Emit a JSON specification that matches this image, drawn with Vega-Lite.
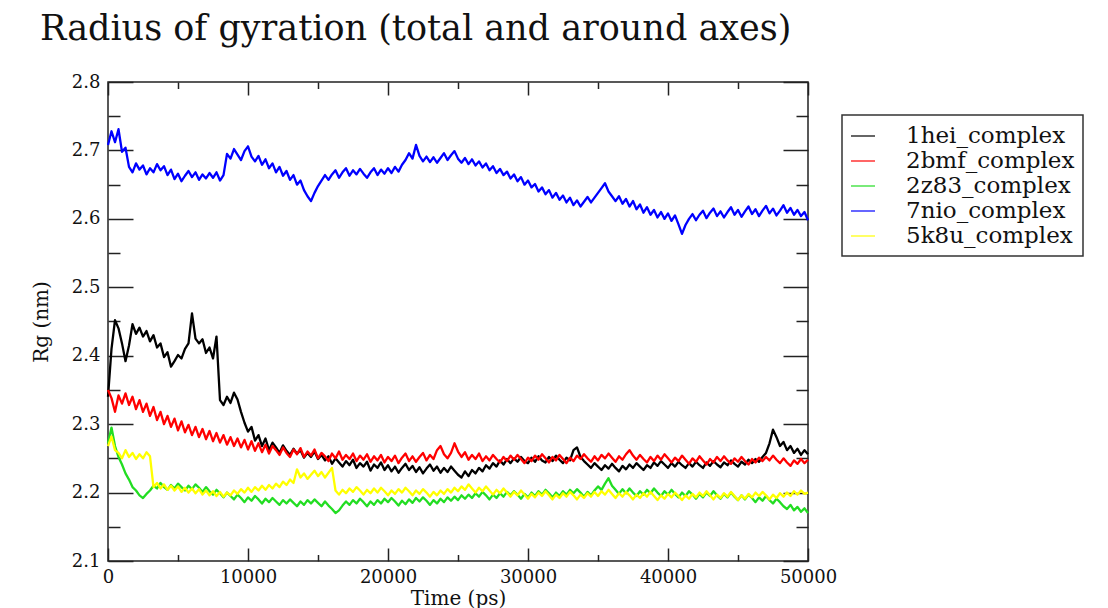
{
"$schema": "https://vega.github.io/schema/vega-lite/v6.json",
"width": 700, "height": 479,
"autosize": {"type": "none"},
"padding": {"left": 108, "top": 82, "right": 300, "bottom": 47},
"background": "white",
"config": {
  "font": "DejaVu Serif",
  "view": {"stroke": "#222", "strokeWidth": 1.5},
  "axis": {"grid": false, "domain": false, "tickColor": "#222", "tickWidth": 1.5, "labelFont": "DejaVu Serif", "labelFontSize": 18, "labelColor": "#111", "titleFont": "DejaVu Serif", "titleFontSize": 20, "titleFontWeight": "normal", "titleColor": "#111"}
},
"title": {"text": "Radius of gyration (total and around axes)", "anchor": "start", "frame": "group", "dx": -68, "fontSize": 35, "font": "DejaVu Serif", "fontWeight": "normal", "color": "#111", "offset": -2, "baseline": "alphabetic"},
"resolve": {"axis": {"x": "independent", "y": "independent"}},
"layer": [
{
"data": {"values": [
{"t":0,"1hei_complex":2.340,"2bmf_complex":2.350,"2z83_complex":2.272,"7nio_complex":2.708,"5k8u_complex":2.268},
{"t":250,"1hei_complex":2.410,"2bmf_complex":2.338,"2z83_complex":2.295,"7nio_complex":2.728,"5k8u_complex":2.282},
{"t":500,"1hei_complex":2.452,"2bmf_complex":2.318,"2z83_complex":2.268,"7nio_complex":2.712,"5k8u_complex":2.262},
{"t":750,"1hei_complex":2.440,"2bmf_complex":2.342,"2z83_complex":2.252,"7nio_complex":2.731,"5k8u_complex":2.258},
{"t":1000,"1hei_complex":2.418,"2bmf_complex":2.330,"2z83_complex":2.241,"7nio_complex":2.698,"5k8u_complex":2.250},
{"t":1250,"1hei_complex":2.392,"2bmf_complex":2.345,"2z83_complex":2.228,"7nio_complex":2.704,"5k8u_complex":2.262},
{"t":1500,"1hei_complex":2.415,"2bmf_complex":2.328,"2z83_complex":2.219,"7nio_complex":2.676,"5k8u_complex":2.252},
{"t":1750,"1hei_complex":2.446,"2bmf_complex":2.340,"2z83_complex":2.208,"7nio_complex":2.668,"5k8u_complex":2.258},
{"t":2000,"1hei_complex":2.432,"2bmf_complex":2.322,"2z83_complex":2.203,"7nio_complex":2.681,"5k8u_complex":2.249},
{"t":2250,"1hei_complex":2.441,"2bmf_complex":2.335,"2z83_complex":2.196,"7nio_complex":2.672,"5k8u_complex":2.256},
{"t":2500,"1hei_complex":2.428,"2bmf_complex":2.318,"2z83_complex":2.192,"7nio_complex":2.678,"5k8u_complex":2.250},
{"t":2750,"1hei_complex":2.436,"2bmf_complex":2.330,"2z83_complex":2.198,"7nio_complex":2.665,"5k8u_complex":2.259},
{"t":3000,"1hei_complex":2.421,"2bmf_complex":2.312,"2z83_complex":2.203,"7nio_complex":2.674,"5k8u_complex":2.253},
{"t":3250,"1hei_complex":2.430,"2bmf_complex":2.325,"2z83_complex":2.210,"7nio_complex":2.668,"5k8u_complex":2.208},
{"t":3500,"1hei_complex":2.412,"2bmf_complex":2.306,"2z83_complex":2.206,"7nio_complex":2.680,"5k8u_complex":2.214},
{"t":3750,"1hei_complex":2.418,"2bmf_complex":2.318,"2z83_complex":2.214,"7nio_complex":2.671,"5k8u_complex":2.206},
{"t":4000,"1hei_complex":2.398,"2bmf_complex":2.300,"2z83_complex":2.208,"7nio_complex":2.677,"5k8u_complex":2.212},
{"t":4250,"1hei_complex":2.405,"2bmf_complex":2.312,"2z83_complex":2.204,"7nio_complex":2.664,"5k8u_complex":2.204},
{"t":4500,"1hei_complex":2.384,"2bmf_complex":2.296,"2z83_complex":2.211,"7nio_complex":2.672,"5k8u_complex":2.210},
{"t":4750,"1hei_complex":2.392,"2bmf_complex":2.308,"2z83_complex":2.206,"7nio_complex":2.658,"5k8u_complex":2.203},
{"t":5000,"1hei_complex":2.401,"2bmf_complex":2.291,"2z83_complex":2.213,"7nio_complex":2.666,"5k8u_complex":2.209},
{"t":5250,"1hei_complex":2.396,"2bmf_complex":2.304,"2z83_complex":2.208,"7nio_complex":2.655,"5k8u_complex":2.201},
{"t":5500,"1hei_complex":2.410,"2bmf_complex":2.288,"2z83_complex":2.203,"7nio_complex":2.663,"5k8u_complex":2.207},
{"t":5750,"1hei_complex":2.418,"2bmf_complex":2.299,"2z83_complex":2.210,"7nio_complex":2.670,"5k8u_complex":2.200},
{"t":6000,"1hei_complex":2.462,"2bmf_complex":2.284,"2z83_complex":2.205,"7nio_complex":2.661,"5k8u_complex":2.206},
{"t":6250,"1hei_complex":2.425,"2bmf_complex":2.296,"2z83_complex":2.212,"7nio_complex":2.668,"5k8u_complex":2.199},
{"t":6500,"1hei_complex":2.418,"2bmf_complex":2.281,"2z83_complex":2.207,"7nio_complex":2.657,"5k8u_complex":2.205},
{"t":6750,"1hei_complex":2.424,"2bmf_complex":2.293,"2z83_complex":2.201,"7nio_complex":2.665,"5k8u_complex":2.197},
{"t":7000,"1hei_complex":2.404,"2bmf_complex":2.278,"2z83_complex":2.208,"7nio_complex":2.659,"5k8u_complex":2.203},
{"t":7250,"1hei_complex":2.412,"2bmf_complex":2.290,"2z83_complex":2.202,"7nio_complex":2.667,"5k8u_complex":2.196},
{"t":7500,"1hei_complex":2.396,"2bmf_complex":2.275,"2z83_complex":2.197,"7nio_complex":2.660,"5k8u_complex":2.202},
{"t":7750,"1hei_complex":2.428,"2bmf_complex":2.287,"2z83_complex":2.204,"7nio_complex":2.668,"5k8u_complex":2.195},
{"t":8000,"1hei_complex":2.335,"2bmf_complex":2.273,"2z83_complex":2.199,"7nio_complex":2.656,"5k8u_complex":2.201},
{"t":8250,"1hei_complex":2.328,"2bmf_complex":2.284,"2z83_complex":2.193,"7nio_complex":2.664,"5k8u_complex":2.194},
{"t":8500,"1hei_complex":2.340,"2bmf_complex":2.270,"2z83_complex":2.200,"7nio_complex":2.695,"5k8u_complex":2.200},
{"t":8750,"1hei_complex":2.331,"2bmf_complex":2.281,"2z83_complex":2.195,"7nio_complex":2.688,"5k8u_complex":2.196},
{"t":9000,"1hei_complex":2.346,"2bmf_complex":2.268,"2z83_complex":2.190,"7nio_complex":2.702,"5k8u_complex":2.203},
{"t":9250,"1hei_complex":2.336,"2bmf_complex":2.279,"2z83_complex":2.197,"7nio_complex":2.694,"5k8u_complex":2.198},
{"t":9500,"1hei_complex":2.318,"2bmf_complex":2.266,"2z83_complex":2.192,"7nio_complex":2.686,"5k8u_complex":2.205},
{"t":9750,"1hei_complex":2.302,"2bmf_complex":2.277,"2z83_complex":2.186,"7nio_complex":2.699,"5k8u_complex":2.200},
{"t":10000,"1hei_complex":2.289,"2bmf_complex":2.263,"2z83_complex":2.193,"7nio_complex":2.706,"5k8u_complex":2.207},
{"t":10250,"1hei_complex":2.296,"2bmf_complex":2.275,"2z83_complex":2.188,"7nio_complex":2.691,"5k8u_complex":2.201},
{"t":10500,"1hei_complex":2.276,"2bmf_complex":2.261,"2z83_complex":2.195,"7nio_complex":2.684,"5k8u_complex":2.208},
{"t":10750,"1hei_complex":2.284,"2bmf_complex":2.272,"2z83_complex":2.190,"7nio_complex":2.692,"5k8u_complex":2.203},
{"t":11000,"1hei_complex":2.268,"2bmf_complex":2.259,"2z83_complex":2.184,"7nio_complex":2.679,"5k8u_complex":2.210},
{"t":11250,"1hei_complex":2.279,"2bmf_complex":2.270,"2z83_complex":2.191,"7nio_complex":2.687,"5k8u_complex":2.204},
{"t":11500,"1hei_complex":2.262,"2bmf_complex":2.257,"2z83_complex":2.186,"7nio_complex":2.674,"5k8u_complex":2.211},
{"t":11750,"1hei_complex":2.273,"2bmf_complex":2.268,"2z83_complex":2.192,"7nio_complex":2.681,"5k8u_complex":2.206},
{"t":12000,"1hei_complex":2.266,"2bmf_complex":2.262,"2z83_complex":2.187,"7nio_complex":2.668,"5k8u_complex":2.213},
{"t":12250,"1hei_complex":2.258,"2bmf_complex":2.255,"2z83_complex":2.182,"7nio_complex":2.676,"5k8u_complex":2.208},
{"t":12500,"1hei_complex":2.269,"2bmf_complex":2.266,"2z83_complex":2.189,"7nio_complex":2.663,"5k8u_complex":2.216},
{"t":12750,"1hei_complex":2.261,"2bmf_complex":2.258,"2z83_complex":2.184,"7nio_complex":2.670,"5k8u_complex":2.211},
{"t":13000,"1hei_complex":2.255,"2bmf_complex":2.252,"2z83_complex":2.190,"7nio_complex":2.657,"5k8u_complex":2.219},
{"t":13250,"1hei_complex":2.264,"2bmf_complex":2.263,"2z83_complex":2.185,"7nio_complex":2.664,"5k8u_complex":2.214},
{"t":13500,"1hei_complex":2.257,"2bmf_complex":2.256,"2z83_complex":2.180,"7nio_complex":2.650,"5k8u_complex":2.234},
{"t":13750,"1hei_complex":2.262,"2bmf_complex":2.265,"2z83_complex":2.187,"7nio_complex":2.656,"5k8u_complex":2.222},
{"t":14000,"1hei_complex":2.251,"2bmf_complex":2.252,"2z83_complex":2.182,"7nio_complex":2.642,"5k8u_complex":2.228},
{"t":14250,"1hei_complex":2.258,"2bmf_complex":2.260,"2z83_complex":2.189,"7nio_complex":2.633,"5k8u_complex":2.220},
{"t":14500,"1hei_complex":2.252,"2bmf_complex":2.254,"2z83_complex":2.184,"7nio_complex":2.626,"5k8u_complex":2.226},
{"t":14750,"1hei_complex":2.260,"2bmf_complex":2.263,"2z83_complex":2.190,"7nio_complex":2.638,"5k8u_complex":2.232},
{"t":15000,"1hei_complex":2.249,"2bmf_complex":2.250,"2z83_complex":2.185,"7nio_complex":2.648,"5k8u_complex":2.224},
{"t":15250,"1hei_complex":2.255,"2bmf_complex":2.258,"2z83_complex":2.180,"7nio_complex":2.656,"5k8u_complex":2.230},
{"t":15500,"1hei_complex":2.247,"2bmf_complex":2.253,"2z83_complex":2.187,"7nio_complex":2.664,"5k8u_complex":2.222},
{"t":15750,"1hei_complex":2.253,"2bmf_complex":2.246,"2z83_complex":2.181,"7nio_complex":2.657,"5k8u_complex":2.229},
{"t":16000,"1hei_complex":2.242,"2bmf_complex":2.257,"2z83_complex":2.176,"7nio_complex":2.665,"5k8u_complex":2.236},
{"t":16250,"1hei_complex":2.250,"2bmf_complex":2.250,"2z83_complex":2.170,"7nio_complex":2.671,"5k8u_complex":2.203},
{"t":16500,"1hei_complex":2.244,"2bmf_complex":2.260,"2z83_complex":2.174,"7nio_complex":2.660,"5k8u_complex":2.197},
{"t":16750,"1hei_complex":2.238,"2bmf_complex":2.248,"2z83_complex":2.181,"7nio_complex":2.668,"5k8u_complex":2.204},
{"t":17000,"1hei_complex":2.246,"2bmf_complex":2.255,"2z83_complex":2.187,"7nio_complex":2.674,"5k8u_complex":2.199},
{"t":17250,"1hei_complex":2.240,"2bmf_complex":2.249,"2z83_complex":2.182,"7nio_complex":2.663,"5k8u_complex":2.206},
{"t":17500,"1hei_complex":2.248,"2bmf_complex":2.257,"2z83_complex":2.189,"7nio_complex":2.671,"5k8u_complex":2.201},
{"t":17750,"1hei_complex":2.236,"2bmf_complex":2.246,"2z83_complex":2.184,"7nio_complex":2.665,"5k8u_complex":2.208},
{"t":18000,"1hei_complex":2.243,"2bmf_complex":2.254,"2z83_complex":2.191,"7nio_complex":2.673,"5k8u_complex":2.203},
{"t":18250,"1hei_complex":2.238,"2bmf_complex":2.248,"2z83_complex":2.186,"7nio_complex":2.666,"5k8u_complex":2.197},
{"t":18500,"1hei_complex":2.245,"2bmf_complex":2.256,"2z83_complex":2.180,"7nio_complex":2.660,"5k8u_complex":2.204},
{"t":18750,"1hei_complex":2.232,"2bmf_complex":2.245,"2z83_complex":2.187,"7nio_complex":2.668,"5k8u_complex":2.199},
{"t":19000,"1hei_complex":2.241,"2bmf_complex":2.253,"2z83_complex":2.182,"7nio_complex":2.674,"5k8u_complex":2.206},
{"t":19250,"1hei_complex":2.236,"2bmf_complex":2.247,"2z83_complex":2.189,"7nio_complex":2.664,"5k8u_complex":2.200},
{"t":19500,"1hei_complex":2.244,"2bmf_complex":2.255,"2z83_complex":2.184,"7nio_complex":2.672,"5k8u_complex":2.207},
{"t":19750,"1hei_complex":2.233,"2bmf_complex":2.244,"2z83_complex":2.191,"7nio_complex":2.666,"5k8u_complex":2.202},
{"t":20000,"1hei_complex":2.240,"2bmf_complex":2.252,"2z83_complex":2.186,"7nio_complex":2.674,"5k8u_complex":2.196},
{"t":20250,"1hei_complex":2.231,"2bmf_complex":2.246,"2z83_complex":2.192,"7nio_complex":2.667,"5k8u_complex":2.203},
{"t":20500,"1hei_complex":2.238,"2bmf_complex":2.254,"2z83_complex":2.187,"7nio_complex":2.676,"5k8u_complex":2.198},
{"t":20750,"1hei_complex":2.229,"2bmf_complex":2.243,"2z83_complex":2.181,"7nio_complex":2.669,"5k8u_complex":2.205},
{"t":21000,"1hei_complex":2.236,"2bmf_complex":2.251,"2z83_complex":2.188,"7nio_complex":2.679,"5k8u_complex":2.200},
{"t":21250,"1hei_complex":2.242,"2bmf_complex":2.257,"2z83_complex":2.183,"7nio_complex":2.686,"5k8u_complex":2.207},
{"t":21500,"1hei_complex":2.233,"2bmf_complex":2.246,"2z83_complex":2.190,"7nio_complex":2.696,"5k8u_complex":2.202},
{"t":21750,"1hei_complex":2.239,"2bmf_complex":2.253,"2z83_complex":2.185,"7nio_complex":2.688,"5k8u_complex":2.196},
{"t":22000,"1hei_complex":2.230,"2bmf_complex":2.245,"2z83_complex":2.192,"7nio_complex":2.708,"5k8u_complex":2.203},
{"t":22250,"1hei_complex":2.237,"2bmf_complex":2.252,"2z83_complex":2.187,"7nio_complex":2.692,"5k8u_complex":2.198},
{"t":22500,"1hei_complex":2.228,"2bmf_complex":2.258,"2z83_complex":2.193,"7nio_complex":2.684,"5k8u_complex":2.205},
{"t":22750,"1hei_complex":2.235,"2bmf_complex":2.247,"2z83_complex":2.188,"7nio_complex":2.691,"5k8u_complex":2.200},
{"t":23000,"1hei_complex":2.241,"2bmf_complex":2.255,"2z83_complex":2.182,"7nio_complex":2.683,"5k8u_complex":2.194},
{"t":23250,"1hei_complex":2.232,"2bmf_complex":2.249,"2z83_complex":2.189,"7nio_complex":2.690,"5k8u_complex":2.201},
{"t":23500,"1hei_complex":2.238,"2bmf_complex":2.262,"2z83_complex":2.184,"7nio_complex":2.682,"5k8u_complex":2.196},
{"t":23750,"1hei_complex":2.229,"2bmf_complex":2.268,"2z83_complex":2.191,"7nio_complex":2.689,"5k8u_complex":2.203},
{"t":24000,"1hei_complex":2.236,"2bmf_complex":2.256,"2z83_complex":2.186,"7nio_complex":2.696,"5k8u_complex":2.198},
{"t":24250,"1hei_complex":2.230,"2bmf_complex":2.250,"2z83_complex":2.193,"7nio_complex":2.686,"5k8u_complex":2.205},
{"t":24500,"1hei_complex":2.238,"2bmf_complex":2.258,"2z83_complex":2.188,"7nio_complex":2.693,"5k8u_complex":2.200},
{"t":24750,"1hei_complex":2.232,"2bmf_complex":2.272,"2z83_complex":2.194,"7nio_complex":2.699,"5k8u_complex":2.207},
{"t":25000,"1hei_complex":2.226,"2bmf_complex":2.260,"2z83_complex":2.189,"7nio_complex":2.688,"5k8u_complex":2.202},
{"t":25250,"1hei_complex":2.222,"2bmf_complex":2.252,"2z83_complex":2.196,"7nio_complex":2.682,"5k8u_complex":2.209},
{"t":25500,"1hei_complex":2.231,"2bmf_complex":2.259,"2z83_complex":2.191,"7nio_complex":2.689,"5k8u_complex":2.204},
{"t":25750,"1hei_complex":2.224,"2bmf_complex":2.248,"2z83_complex":2.197,"7nio_complex":2.680,"5k8u_complex":2.212},
{"t":26000,"1hei_complex":2.233,"2bmf_complex":2.255,"2z83_complex":2.192,"7nio_complex":2.687,"5k8u_complex":2.206},
{"t":26250,"1hei_complex":2.228,"2bmf_complex":2.249,"2z83_complex":2.199,"7nio_complex":2.678,"5k8u_complex":2.200},
{"t":26500,"1hei_complex":2.236,"2bmf_complex":2.257,"2z83_complex":2.194,"7nio_complex":2.684,"5k8u_complex":2.207},
{"t":26750,"1hei_complex":2.231,"2bmf_complex":2.246,"2z83_complex":2.201,"7nio_complex":2.675,"5k8u_complex":2.202},
{"t":27000,"1hei_complex":2.240,"2bmf_complex":2.253,"2z83_complex":2.196,"7nio_complex":2.681,"5k8u_complex":2.209},
{"t":27250,"1hei_complex":2.235,"2bmf_complex":2.247,"2z83_complex":2.190,"7nio_complex":2.671,"5k8u_complex":2.203},
{"t":27500,"1hei_complex":2.243,"2bmf_complex":2.255,"2z83_complex":2.197,"7nio_complex":2.677,"5k8u_complex":2.197},
{"t":27750,"1hei_complex":2.238,"2bmf_complex":2.249,"2z83_complex":2.192,"7nio_complex":2.667,"5k8u_complex":2.204},
{"t":28000,"1hei_complex":2.247,"2bmf_complex":2.244,"2z83_complex":2.199,"7nio_complex":2.673,"5k8u_complex":2.199},
{"t":28250,"1hei_complex":2.241,"2bmf_complex":2.252,"2z83_complex":2.194,"7nio_complex":2.664,"5k8u_complex":2.206},
{"t":28500,"1hei_complex":2.249,"2bmf_complex":2.246,"2z83_complex":2.201,"7nio_complex":2.669,"5k8u_complex":2.200},
{"t":28750,"1hei_complex":2.243,"2bmf_complex":2.254,"2z83_complex":2.196,"7nio_complex":2.659,"5k8u_complex":2.194},
{"t":29000,"1hei_complex":2.250,"2bmf_complex":2.248,"2z83_complex":2.202,"7nio_complex":2.665,"5k8u_complex":2.201},
{"t":29250,"1hei_complex":2.245,"2bmf_complex":2.255,"2z83_complex":2.197,"7nio_complex":2.655,"5k8u_complex":2.196},
{"t":29500,"1hei_complex":2.252,"2bmf_complex":2.249,"2z83_complex":2.191,"7nio_complex":2.661,"5k8u_complex":2.203},
{"t":29750,"1hei_complex":2.246,"2bmf_complex":2.243,"2z83_complex":2.198,"7nio_complex":2.650,"5k8u_complex":2.197},
{"t":30000,"1hei_complex":2.243,"2bmf_complex":2.251,"2z83_complex":2.193,"7nio_complex":2.656,"5k8u_complex":2.191},
{"t":30250,"1hei_complex":2.251,"2bmf_complex":2.246,"2z83_complex":2.200,"7nio_complex":2.646,"5k8u_complex":2.198},
{"t":30500,"1hei_complex":2.245,"2bmf_complex":2.254,"2z83_complex":2.195,"7nio_complex":2.651,"5k8u_complex":2.193},
{"t":30750,"1hei_complex":2.253,"2bmf_complex":2.248,"2z83_complex":2.202,"7nio_complex":2.640,"5k8u_complex":2.200},
{"t":31000,"1hei_complex":2.247,"2bmf_complex":2.256,"2z83_complex":2.197,"7nio_complex":2.646,"5k8u_complex":2.195},
{"t":31250,"1hei_complex":2.244,"2bmf_complex":2.250,"2z83_complex":2.204,"7nio_complex":2.636,"5k8u_complex":2.202},
{"t":31500,"1hei_complex":2.252,"2bmf_complex":2.244,"2z83_complex":2.199,"7nio_complex":2.642,"5k8u_complex":2.196},
{"t":31750,"1hei_complex":2.246,"2bmf_complex":2.252,"2z83_complex":2.193,"7nio_complex":2.631,"5k8u_complex":2.190},
{"t":32000,"1hei_complex":2.254,"2bmf_complex":2.247,"2z83_complex":2.200,"7nio_complex":2.638,"5k8u_complex":2.197},
{"t":32250,"1hei_complex":2.248,"2bmf_complex":2.255,"2z83_complex":2.195,"7nio_complex":2.628,"5k8u_complex":2.192},
{"t":32500,"1hei_complex":2.243,"2bmf_complex":2.249,"2z83_complex":2.202,"7nio_complex":2.634,"5k8u_complex":2.199},
{"t":32750,"1hei_complex":2.251,"2bmf_complex":2.243,"2z83_complex":2.197,"7nio_complex":2.624,"5k8u_complex":2.194},
{"t":33000,"1hei_complex":2.247,"2bmf_complex":2.251,"2z83_complex":2.204,"7nio_complex":2.631,"5k8u_complex":2.201},
{"t":33250,"1hei_complex":2.262,"2bmf_complex":2.246,"2z83_complex":2.199,"7nio_complex":2.620,"5k8u_complex":2.196},
{"t":33500,"1hei_complex":2.266,"2bmf_complex":2.254,"2z83_complex":2.205,"7nio_complex":2.627,"5k8u_complex":2.190},
{"t":33750,"1hei_complex":2.252,"2bmf_complex":2.249,"2z83_complex":2.200,"7nio_complex":2.618,"5k8u_complex":2.197},
{"t":34000,"1hei_complex":2.246,"2bmf_complex":2.256,"2z83_complex":2.194,"7nio_complex":2.625,"5k8u_complex":2.192},
{"t":34250,"1hei_complex":2.241,"2bmf_complex":2.250,"2z83_complex":2.201,"7nio_complex":2.632,"5k8u_complex":2.199},
{"t":34500,"1hei_complex":2.236,"2bmf_complex":2.245,"2z83_complex":2.196,"7nio_complex":2.624,"5k8u_complex":2.194},
{"t":34750,"1hei_complex":2.243,"2bmf_complex":2.253,"2z83_complex":2.203,"7nio_complex":2.631,"5k8u_complex":2.201},
{"t":35000,"1hei_complex":2.238,"2bmf_complex":2.247,"2z83_complex":2.209,"7nio_complex":2.638,"5k8u_complex":2.195},
{"t":35250,"1hei_complex":2.233,"2bmf_complex":2.255,"2z83_complex":2.204,"7nio_complex":2.645,"5k8u_complex":2.202},
{"t":35500,"1hei_complex":2.240,"2bmf_complex":2.250,"2z83_complex":2.213,"7nio_complex":2.652,"5k8u_complex":2.197},
{"t":35750,"1hei_complex":2.235,"2bmf_complex":2.257,"2z83_complex":2.221,"7nio_complex":2.640,"5k8u_complex":2.204},
{"t":36000,"1hei_complex":2.242,"2bmf_complex":2.251,"2z83_complex":2.210,"7nio_complex":2.633,"5k8u_complex":2.198},
{"t":36250,"1hei_complex":2.236,"2bmf_complex":2.245,"2z83_complex":2.204,"7nio_complex":2.626,"5k8u_complex":2.192},
{"t":36500,"1hei_complex":2.231,"2bmf_complex":2.253,"2z83_complex":2.198,"7nio_complex":2.633,"5k8u_complex":2.199},
{"t":36750,"1hei_complex":2.239,"2bmf_complex":2.248,"2z83_complex":2.205,"7nio_complex":2.622,"5k8u_complex":2.194},
{"t":37000,"1hei_complex":2.234,"2bmf_complex":2.256,"2z83_complex":2.199,"7nio_complex":2.629,"5k8u_complex":2.201},
{"t":37250,"1hei_complex":2.241,"2bmf_complex":2.262,"2z83_complex":2.206,"7nio_complex":2.618,"5k8u_complex":2.196},
{"t":37500,"1hei_complex":2.236,"2bmf_complex":2.254,"2z83_complex":2.200,"7nio_complex":2.626,"5k8u_complex":2.190},
{"t":37750,"1hei_complex":2.243,"2bmf_complex":2.248,"2z83_complex":2.195,"7nio_complex":2.614,"5k8u_complex":2.197},
{"t":38000,"1hei_complex":2.238,"2bmf_complex":2.255,"2z83_complex":2.202,"7nio_complex":2.621,"5k8u_complex":2.192},
{"t":38250,"1hei_complex":2.233,"2bmf_complex":2.249,"2z83_complex":2.197,"7nio_complex":2.609,"5k8u_complex":2.199},
{"t":38500,"1hei_complex":2.240,"2bmf_complex":2.244,"2z83_complex":2.204,"7nio_complex":2.617,"5k8u_complex":2.194},
{"t":38750,"1hei_complex":2.236,"2bmf_complex":2.252,"2z83_complex":2.199,"7nio_complex":2.606,"5k8u_complex":2.201},
{"t":39000,"1hei_complex":2.244,"2bmf_complex":2.246,"2z83_complex":2.206,"7nio_complex":2.613,"5k8u_complex":2.195},
{"t":39250,"1hei_complex":2.239,"2bmf_complex":2.254,"2z83_complex":2.200,"7nio_complex":2.602,"5k8u_complex":2.189},
{"t":39500,"1hei_complex":2.246,"2bmf_complex":2.248,"2z83_complex":2.195,"7nio_complex":2.610,"5k8u_complex":2.196},
{"t":39750,"1hei_complex":2.241,"2bmf_complex":2.256,"2z83_complex":2.202,"7nio_complex":2.600,"5k8u_complex":2.191},
{"t":40000,"1hei_complex":2.236,"2bmf_complex":2.250,"2z83_complex":2.197,"7nio_complex":2.608,"5k8u_complex":2.198},
{"t":40250,"1hei_complex":2.243,"2bmf_complex":2.244,"2z83_complex":2.204,"7nio_complex":2.597,"5k8u_complex":2.193},
{"t":40500,"1hei_complex":2.238,"2bmf_complex":2.251,"2z83_complex":2.198,"7nio_complex":2.605,"5k8u_complex":2.200},
{"t":40750,"1hei_complex":2.245,"2bmf_complex":2.246,"2z83_complex":2.193,"7nio_complex":2.592,"5k8u_complex":2.195},
{"t":41000,"1hei_complex":2.240,"2bmf_complex":2.254,"2z83_complex":2.200,"7nio_complex":2.578,"5k8u_complex":2.189},
{"t":41250,"1hei_complex":2.236,"2bmf_complex":2.248,"2z83_complex":2.195,"7nio_complex":2.591,"5k8u_complex":2.196},
{"t":41500,"1hei_complex":2.243,"2bmf_complex":2.242,"2z83_complex":2.202,"7nio_complex":2.600,"5k8u_complex":2.191},
{"t":41750,"1hei_complex":2.238,"2bmf_complex":2.250,"2z83_complex":2.197,"7nio_complex":2.607,"5k8u_complex":2.198},
{"t":42000,"1hei_complex":2.245,"2bmf_complex":2.245,"2z83_complex":2.191,"7nio_complex":2.598,"5k8u_complex":2.193},
{"t":42250,"1hei_complex":2.240,"2bmf_complex":2.253,"2z83_complex":2.198,"7nio_complex":2.606,"5k8u_complex":2.200},
{"t":42500,"1hei_complex":2.236,"2bmf_complex":2.247,"2z83_complex":2.193,"7nio_complex":2.612,"5k8u_complex":2.195},
{"t":42750,"1hei_complex":2.244,"2bmf_complex":2.241,"2z83_complex":2.200,"7nio_complex":2.601,"5k8u_complex":2.202},
{"t":43000,"1hei_complex":2.239,"2bmf_complex":2.249,"2z83_complex":2.195,"7nio_complex":2.609,"5k8u_complex":2.196},
{"t":43250,"1hei_complex":2.246,"2bmf_complex":2.244,"2z83_complex":2.202,"7nio_complex":2.615,"5k8u_complex":2.190},
{"t":43500,"1hei_complex":2.241,"2bmf_complex":2.252,"2z83_complex":2.196,"7nio_complex":2.604,"5k8u_complex":2.197},
{"t":43750,"1hei_complex":2.237,"2bmf_complex":2.246,"2z83_complex":2.191,"7nio_complex":2.611,"5k8u_complex":2.192},
{"t":44000,"1hei_complex":2.244,"2bmf_complex":2.253,"2z83_complex":2.198,"7nio_complex":2.602,"5k8u_complex":2.199},
{"t":44250,"1hei_complex":2.240,"2bmf_complex":2.247,"2z83_complex":2.193,"7nio_complex":2.610,"5k8u_complex":2.194},
{"t":44500,"1hei_complex":2.247,"2bmf_complex":2.242,"2z83_complex":2.200,"7nio_complex":2.617,"5k8u_complex":2.201},
{"t":44750,"1hei_complex":2.242,"2bmf_complex":2.250,"2z83_complex":2.194,"7nio_complex":2.606,"5k8u_complex":2.195},
{"t":45000,"1hei_complex":2.238,"2bmf_complex":2.245,"2z83_complex":2.189,"7nio_complex":2.613,"5k8u_complex":2.189},
{"t":45250,"1hei_complex":2.245,"2bmf_complex":2.252,"2z83_complex":2.196,"7nio_complex":2.603,"5k8u_complex":2.196},
{"t":45500,"1hei_complex":2.241,"2bmf_complex":2.246,"2z83_complex":2.190,"7nio_complex":2.611,"5k8u_complex":2.191},
{"t":45750,"1hei_complex":2.248,"2bmf_complex":2.241,"2z83_complex":2.197,"7nio_complex":2.618,"5k8u_complex":2.198},
{"t":46000,"1hei_complex":2.243,"2bmf_complex":2.249,"2z83_complex":2.192,"7nio_complex":2.607,"5k8u_complex":2.193},
{"t":46250,"1hei_complex":2.249,"2bmf_complex":2.244,"2z83_complex":2.186,"7nio_complex":2.614,"5k8u_complex":2.200},
{"t":46500,"1hei_complex":2.245,"2bmf_complex":2.251,"2z83_complex":2.193,"7nio_complex":2.604,"5k8u_complex":2.195},
{"t":46750,"1hei_complex":2.252,"2bmf_complex":2.246,"2z83_complex":2.188,"7nio_complex":2.612,"5k8u_complex":2.201},
{"t":47000,"1hei_complex":2.258,"2bmf_complex":2.252,"2z83_complex":2.195,"7nio_complex":2.619,"5k8u_complex":2.196},
{"t":47250,"1hei_complex":2.272,"2bmf_complex":2.247,"2z83_complex":2.189,"7nio_complex":2.608,"5k8u_complex":2.190},
{"t":47500,"1hei_complex":2.292,"2bmf_complex":2.254,"2z83_complex":2.184,"7nio_complex":2.615,"5k8u_complex":2.197},
{"t":47750,"1hei_complex":2.281,"2bmf_complex":2.248,"2z83_complex":2.191,"7nio_complex":2.605,"5k8u_complex":2.192},
{"t":48000,"1hei_complex":2.268,"2bmf_complex":2.243,"2z83_complex":2.186,"7nio_complex":2.612,"5k8u_complex":2.199},
{"t":48250,"1hei_complex":2.274,"2bmf_complex":2.250,"2z83_complex":2.180,"7nio_complex":2.620,"5k8u_complex":2.194},
{"t":48500,"1hei_complex":2.262,"2bmf_complex":2.244,"2z83_complex":2.176,"7nio_complex":2.609,"5k8u_complex":2.200},
{"t":48750,"1hei_complex":2.268,"2bmf_complex":2.239,"2z83_complex":2.182,"7nio_complex":2.616,"5k8u_complex":2.195},
{"t":49000,"1hei_complex":2.258,"2bmf_complex":2.247,"2z83_complex":2.174,"7nio_complex":2.606,"5k8u_complex":2.202},
{"t":49250,"1hei_complex":2.264,"2bmf_complex":2.242,"2z83_complex":2.179,"7nio_complex":2.613,"5k8u_complex":2.197},
{"t":49500,"1hei_complex":2.255,"2bmf_complex":2.249,"2z83_complex":2.172,"7nio_complex":2.604,"5k8u_complex":2.203},
{"t":49750,"1hei_complex":2.262,"2bmf_complex":2.243,"2z83_complex":2.177,"7nio_complex":2.610,"5k8u_complex":2.198},
{"t":50000,"1hei_complex":2.256,"2bmf_complex":2.248,"2z83_complex":2.170,"7nio_complex":2.598,"5k8u_complex":2.200}
]},
"transform": [{"fold": ["1hei_complex", "2bmf_complex", "2z83_complex", "7nio_complex", "5k8u_complex"], "as": ["series", "rg"]}],
"mark": {"type": "line", "strokeWidth": 2.3, "strokeJoin": "round"},
"encoding": {
  "x": {"field": "t", "type": "quantitative", "scale": {"domain": [0, 50000], "nice": false, "zero": false},
        "axis": {"orient": "bottom", "values": [0, 10000, 20000, 30000, 40000, 50000], "format": "d", "tickSize": -13, "labelPadding": 20, "labelFlush": false, "title": "Time (ps)", "titlePadding": 2}},
  "y": {"field": "rg", "type": "quantitative", "scale": {"domain": [2.1, 2.8], "nice": false, "zero": false},
        "axis": {"orient": "left", "values": [2.1, 2.2, 2.3, 2.4, 2.5, 2.6, 2.7, 2.8], "format": ".1f", "tickSize": -25, "labelPadding": 33, "labelFlush": false, "title": "Rg (nm)", "titlePadding": 20}},
  "color": {"field": "series", "type": "nominal",
            "scale": {"domain": ["1hei_complex", "2bmf_complex", "2z83_complex", "7nio_complex", "5k8u_complex"], "range": ["#000000", "#ff0000", "#22dd22", "#0000ff", "#ffff00"]},
            "legend": {"orient": "none", "legendX": 734, "legendY": 33, "title": null, "symbolType": "stroke", "symbolSize": 576, "symbolStrokeWidth": 1.2, "labelFont": "DejaVu Serif", "labelFontSize": 23, "labelColor": "#111", "labelOffset": 30, "labelLimit": 300, "strokeColor": "#333", "padding": 8, "rowPadding": 0, "fillColor": "white",
                       "encode": {"legend": {"update": {"strokeWidth": {"value": 1.5}}}}}}
}
},
{
"data": {"values": []},
"mark": {"type": "point", "opacity": 0},
"encoding": {
  "x": {"field": "t", "type": "quantitative", "scale": {"domain": [0, 50000], "nice": false, "zero": false}, "axis": {"orient": "top", "values": [0, 10000, 20000, 30000, 40000, 50000], "tickSize": -13, "labels": false, "title": null}},
  "y": {"field": "rg", "type": "quantitative", "scale": {"domain": [2.1, 2.8], "nice": false, "zero": false}, "axis": {"orient": "right", "values": [2.1, 2.2, 2.3, 2.4, 2.5, 2.6, 2.7, 2.8], "tickSize": -25, "labels": false, "title": null}}
}
},
{
"data": {"values": []},
"mark": {"type": "point", "opacity": 0},
"encoding": {
  "x": {"field": "t", "type": "quantitative", "scale": {"domain": [0, 50000], "nice": false, "zero": false}, "axis": {"orient": "bottom", "values": [5000, 15000, 25000, 35000, 45000], "tickSize": -6.5, "labels": false, "title": null}},
  "y": {"field": "rg", "type": "quantitative", "scale": {"domain": [2.1, 2.8], "nice": false, "zero": false}, "axis": {"orient": "left", "values": [2.15, 2.25, 2.35, 2.45, 2.55, 2.65, 2.75], "tickSize": -12, "labels": false, "title": null}}
}
},
{
"data": {"values": []},
"mark": {"type": "point", "opacity": 0},
"encoding": {
  "x": {"field": "t", "type": "quantitative", "scale": {"domain": [0, 50000], "nice": false, "zero": false}, "axis": {"orient": "top", "values": [5000, 15000, 25000, 35000, 45000], "tickSize": -6.5, "labels": false, "title": null}},
  "y": {"field": "rg", "type": "quantitative", "scale": {"domain": [2.1, 2.8], "nice": false, "zero": false}, "axis": {"orient": "right", "values": [2.15, 2.25, 2.35, 2.45, 2.55, 2.65, 2.75], "tickSize": -12, "labels": false, "title": null}}
}
}
]
}
